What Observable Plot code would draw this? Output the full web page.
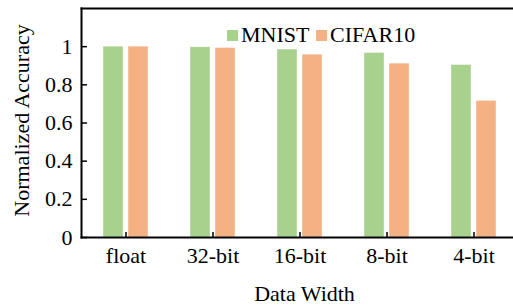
<!DOCTYPE html>
<html><head><meta charset="utf-8">
<script src="https://cdn.jsdelivr.net/npm/d3@7"></script>
<script src="https://cdn.jsdelivr.net/npm/@observablehq/plot@0.6"></script>
<style>
body{margin:0;background:#fff;}
#chart{width:513px;height:305px;}
#chart svg, #chart svg text{font-family:"Liberation Serif","Times New Roman",Times,"DejaVu Serif",serif !important;}
</style></head><body><div id="chart"></div>
<script>
const categories = ["float", "32-bit", "16-bit", "8-bit", "4-bit"];
const series = ["MNIST", "CIFAR10"];
const mnist = [1.0, 0.997, 0.985, 0.967, 0.904];
const cifar10 = [1.0, 0.993, 0.958, 0.911, 0.716];
const yTicks = [0, 0.2, 0.4, 0.6, 0.8, 1];
const yTickLabels = ["0", "0.2", "0.4", "0.6", "0.8", "1"];
const colors = ["#a9d18e", "#f4b183"];
const xLabel = "Data Width";
const yLabel = "Normalized Accuracy";

const rowsM = categories.map((c, i) => ({category: c, series: series[0], value: mnist[i]}));
const rowsC = categories.map((c, i) => ({category: c, series: series[1], value: cifar10[i]}));

const plot = Plot.plot({
  width: 513, height: 305,
  marginLeft: 81, marginRight: 0, marginTop: 8, marginBottom: 68,
  style: {fontSize: "22px", color: "#000", background: "#fff"},
  x: {domain: categories, range: [81, 518], paddingInner: 0.485, paddingOuter: 0.245, label: null},
  y: {domain: [0, 1.2], label: null},
  marks: [
    Plot.barY(rowsM, {x: "category", y: "value", fill: colors[0], insetRight: 25, stroke: "#fff", strokeOpacity: 0.5, strokeWidth: 0.8}),
    Plot.barY(rowsC, {x: "category", y: "value", fill: colors[1], insetLeft: 25, stroke: "#fff", strokeOpacity: 0.5, strokeWidth: 0.8}),
    Plot.frame({anchor: "left", stroke: "#000", strokeWidth: 2}),
    Plot.frame({anchor: "top", stroke: "#000", strokeWidth: 2}),
    Plot.frame({anchor: "bottom", stroke: "#000", strokeWidth: 2}),
    Plot.axisY(yTicks, {tickSize: -6, tickPadding: 15, strokeWidth: 1.5, fontSize: 22, label: null,
      tickFormat: d => yTickLabels[yTicks.indexOf(d)]}),
    Plot.axisX({tickSize: -5, tickPadding: 15, strokeWidth: 1.5, fontSize: 22, label: null}),
    Plot.text([yLabel], {frameAnchor: "left", rotate: -90, dx: -60, dy: -2.5, fontSize: 22, textAnchor: "middle", lineAnchor: "middle", text: d => d}),
    Plot.text([xLabel], {frameAnchor: "bottom", dx: 7, dy: 56, fontSize: 22, textAnchor: "middle", lineAnchor: "middle", text: d => d})
  ]
});
document.getElementById("chart").appendChild(plot);

// legend inside the plot area
const svg = d3.select(plot.tagName.toLowerCase() === "svg" ? plot : plot.querySelector("svg"));
const legendX = [227, 316];
const lg = svg.append("g").attr("font-size", 22).attr("text-anchor", "start");
series.forEach((s, i) => {
  lg.append("rect").attr("x", legendX[i]).attr("y", 30).attr("width", 11).attr("height", 11).attr("fill", colors[i]);
  lg.append("text").attr("x", legendX[i] + 14).attr("y", 42).attr("fill", "#000").text(s);
});
</script></body></html>
